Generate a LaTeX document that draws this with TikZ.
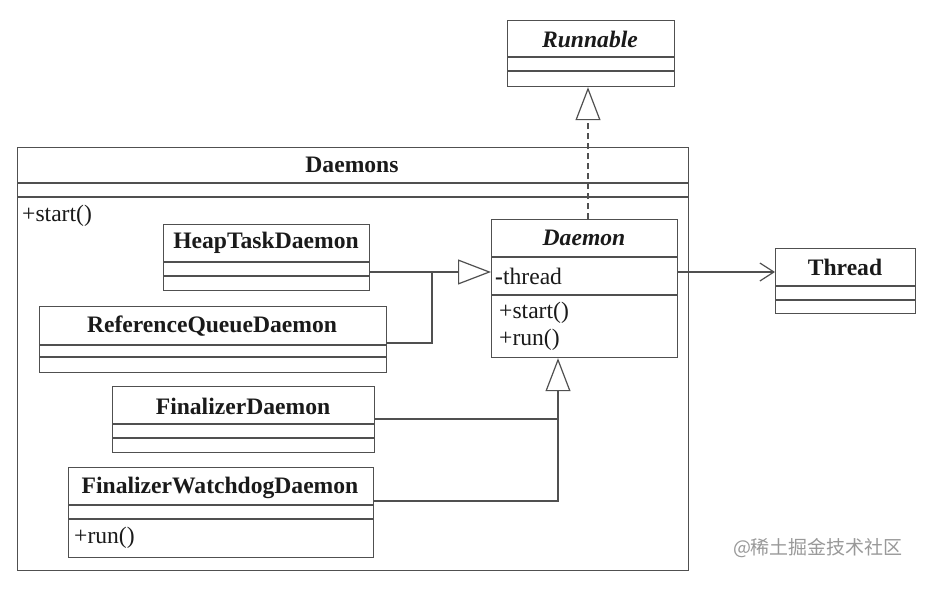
\documentclass[tikz,border=0pt]{standalone}
\usepackage{fontspec}
\setmainfont{Liberation Serif}
\newfontfamily\cjk{Noto Sans CJK SC}
\usetikzlibrary{arrows.meta,calc}
\definecolor{lc}{HTML}{505050}
\definecolor{tc}{HTML}{1A1A1A}
\newcommand\uclass[7]{%
  \node[box, minimum width={(#4-#2)*1pt}, minimum height={(#5-#3)*1pt}] (#1) at (#2,#3) {};
  \draw[line] (#2,#6) -- (#4,#6);
  \draw[line] (#2,#7) -- (#4,#7);}
\begin{document}
\begin{tikzpicture}[x=1pt,y=-1pt,
  line/.style={draw=lc, line width=1.2pt},
  box/.style={draw=lc, line width=1.2pt, inner sep=0pt, anchor=north west},
  ttl/.style={font=\fontsize{23.6}{26}\selectfont\bfseries, text=tc, inner sep=0pt},
  itl/.style={font=\fontsize{23.6}{26}\selectfont\bfseries\itshape, text=tc, inner sep=0pt},
  mem/.style={font=\fontsize{23.6}{26}\selectfont, text=tc, inner sep=0pt, anchor=west},
  gen/.style={draw=lc, line width=1.2pt, -{Triangle[open,length=33pt,width=25pt,fill=white]}},
]
\fill[white] (0,0) rectangle (927,606);
\useasboundingbox (0,0) rectangle (927,606);

% Runnable
\uclass{rn}{507}{20}{674}{86}{57}{71}
\node[itl] (rnt) at (590,39) {Runnable};

% Daemons container
\uclass{dms}{17}{147}{688}{570}{183}{197}
\node[ttl] (dmst) at (352,165) {Daemons};
\node[mem] (dmsm) at (22,216) {+start()};

% HeapTaskDaemon
\uclass{htd}{163}{224}{369}{290}{262}{276}
\node[ttl] (htdt) at (266,243) {HeapTaskDaemon};

% ReferenceQueueDaemon
\uclass{rqd}{39}{306}{386}{372}{345}{357}
\node[ttl] (rqdt) at (212,326) {ReferenceQueueDaemon};

% Daemon
\uclass{dm}{491}{219}{677}{357}{257}{295}
\node[itl] (dmt) at (584,238) {Daemon};
\node[mem] (dmf) at (495,276) {\textbf{-}thread};
\node[mem] (dmm1) at (499,313) {+start()};
\node[mem] (dmm2) at (499,340) {+run()};

% Thread
\uclass{th}{775}{248}{915}{313}{286}{300}
\node[ttl] (tht) at (845,267) {Thread};

% FinalizerDaemon
\uclass{fd}{112}{386}{374}{452}{424}{438}
\node[ttl] (fdt) at (243,406) {FinalizerDaemon};

% FinalizerWatchdogDaemon
\uclass{fwd}{68}{467}{373}{557}{505}{519}
\node[ttl] (fwdt) at (220,488) {FinalizerWatchdogDaemon};
\node[mem] (fwdm) at (74,538) {+run()};

% connectors
\coordinate (j1) at (432,272);
\coordinate (j2) at (432,343);
\draw[line] (htd.east |- j1) -- (j1);
\draw[line] (rqd.east |- j2) -- (j2) -- (j1);
\draw[gen] (j1) -- (dm.west |- j1);

\coordinate (j3) at (558,419);
\coordinate (j4) at (558,501);
\draw[line] (fd.east |- j3) -- (j3);
\draw[gen] (fwd.east |- j4) -- (j4) -- (dm.south -| j4);

\coordinate (j5) at (588,200);
\draw[gen, dash pattern=on 6pt off 4pt] (dm.north -| j5) -- (rn.south -| j5);

\draw[line, -{Straight Barb[length=14pt,width=18pt]}] (dm.east |- j1) -- (th.west |- j1);

% watermark
\node[font=\cjk\fontsize{19}{22}\selectfont, text=black!40, inner sep=0pt] (wm) at (818,548) {@稀土掘金技术社区};
\end{tikzpicture}
\end{document}
